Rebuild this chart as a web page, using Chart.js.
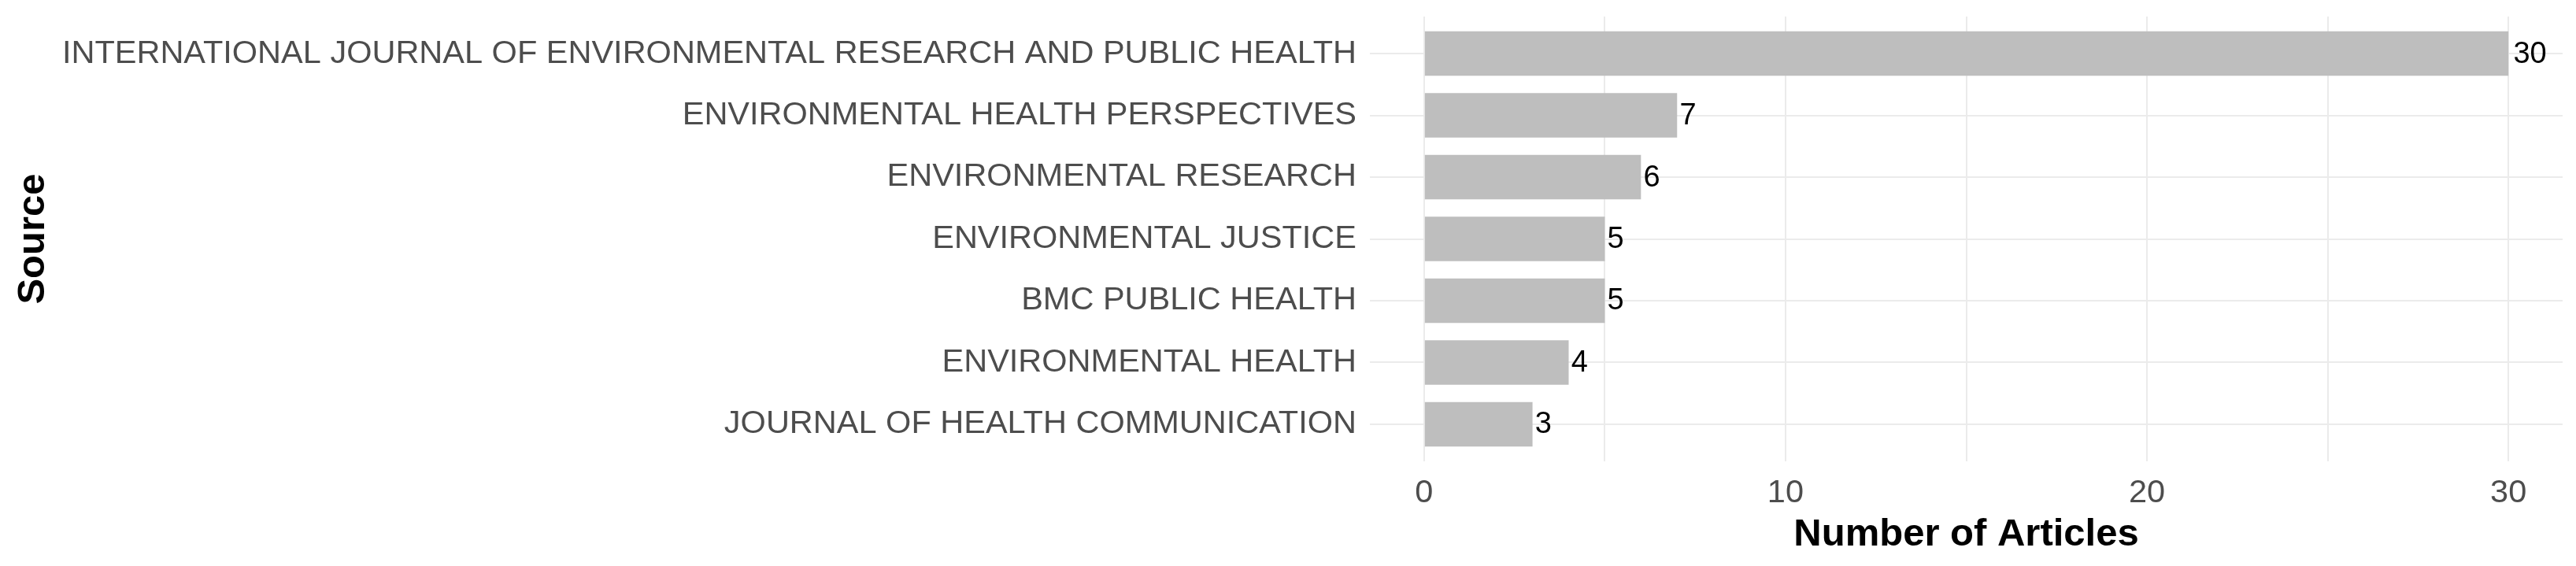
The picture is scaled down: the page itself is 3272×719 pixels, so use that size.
<!DOCTYPE html>
<html>
<head>
<meta charset="utf-8">
<script src="https://cdn.jsdelivr.net/npm/chart.js@4"></script>
<style>
  html, body { margin: 0; padding: 0; background: #fff; }
  #wrap { width: 3272px; height: 719px; }
</style>
</head>
<body>
<div id="wrap"><canvas id="chart" width="3272" height="719"></canvas></div>
<script>
// journals, top to bottom
const sources = [
    'INTERNATIONAL JOURNAL OF ENVIRONMENTAL RESEARCH AND PUBLIC HEALTH',
    'ENVIRONMENTAL HEALTH PERSPECTIVES',
    'ENVIRONMENTAL RESEARCH',
    'ENVIRONMENTAL JUSTICE',
    'BMC PUBLIC HEALTH',
    'ENVIRONMENTAL HEALTH',
    'JOURNAL OF HEALTH COMMUNICATION',
];
const articles = [30, 7, 6, 5, 5, 4, 3];
const xTicks = [0, 10, 20, 30];

const FONT = "'Liberation Sans', Arial, sans-serif";

// numbers at the end of each bar
const barLabels = {
    id: 'barLabels',
    afterDatasetsDraw(chart) {
        const ctx = chart.ctx;
        const meta = chart.getDatasetMeta(0);
        ctx.save();
        ctx.font = '38px ' + FONT;
        ctx.fillStyle = '#000';
        ctx.textAlign = 'left';
        ctx.textBaseline = 'middle';
        meta.data.forEach((bar, i) => {
            const txt = String(articles[i]);
            const w = ctx.measureText(txt).width;
            ctx.fillText(txt, bar.x + 0.15 * w, bar.y + 1);
        });
        ctx.restore();
    },
};

// keep the plot area where ggplot put it
const noPad = (s) => {
    s.paddingTop = 0;
    s.paddingBottom = 0;
    s.paddingLeft = 0;
    s.paddingRight = 0;
};

new Chart(document.getElementById('chart').getContext('2d'), {
    type: 'bar',
    data: {
        datasets: [{
            label: 'Number of Articles',
            data: articles.map((v, i) => ({ x: v, y: i + 1 })),
            backgroundColor: '#BEBEBE',
            borderWidth: 0,
            barPercentage: 0.9,
            categoryPercentage: 0.8,
        }],
    },
    options: {
        indexAxis: 'y',
        responsive: false,
        animation: false,
        devicePixelRatio: 1,
        layout: { padding: { top: 21, right: 17, left: 0, bottom: 0 } },
        plugins: {
            legend: { display: false },
            tooltip: { enabled: false },
        },
        scales: {
            x: {
                type: 'linear',
                min: -1.5,
                max: 31.5,
                offset: false,
                afterBuildTicks: (s) => {
                    s.ticks = [0, 5, 10, 15, 20, 25, 30].map((v) => ({ value: v }));
                },
                afterFit: (s) => { s.height = 133; noPad(s); },
                border: { display: false },
                grid: { color: '#EBEBEB', lineWidth: 2, drawTicks: false, offset: false },
                ticks: {
                    padding: 16,
                    color: '#4D4D4D',
                    font: { family: FONT, size: 41.5 },
                    maxRotation: 0,
                    autoSkip: false,
                    callback: (v) => (xTicks.includes(v) ? String(v) : ''),
                },
                title: {
                    display: true,
                    text: 'Number of Articles',
                    color: '#000',
                    font: { family: FONT, size: 49, weight: 'bold' },
                    padding: { top: 0, bottom: 10 },
                },
            },
            y: {
                type: 'linear',
                reverse: true,
                min: 0.4,
                max: 7.6,
                offset: false,
                afterBuildTicks: (s) => {
                    s.ticks = sources.map((_, i) => ({ value: i + 1 }));
                },
                afterFit: (s) => { s.width = 1740; noPad(s); },
                border: { display: false },
                grid: { color: '#EBEBEB', lineWidth: 2, drawTicks: false, offset: false },
                ticks: {
                    padding: 17,
                    color: '#4D4D4D',
                    font: { family: FONT, size: 41.5 },
                    autoSkip: false,
                    callback: (v) => sources[v - 1],
                },
                title: {
                    display: true,
                    text: 'Source',
                    color: '#000',
                    font: { family: FONT, size: 49, weight: 'bold' },
                    padding: { top: 13, bottom: 0 },
                },
            },
        },
    },
    plugins: [barLabels],
});
</script>
</body>
</html>
